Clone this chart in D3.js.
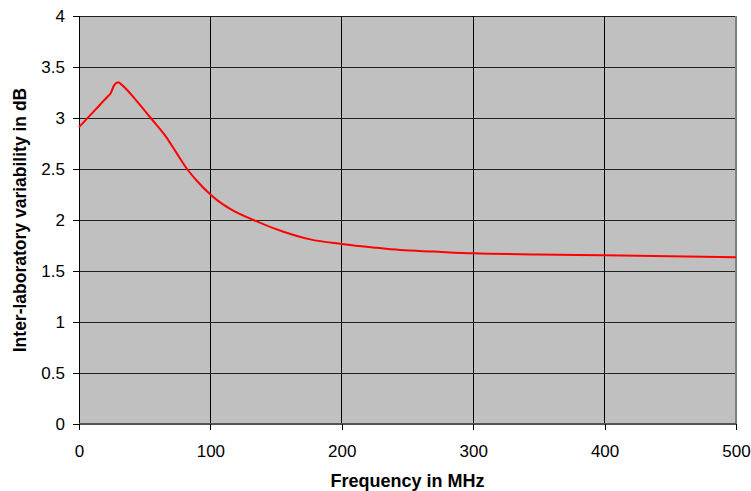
<!DOCTYPE html>
<html>
<head>
<meta charset="utf-8">
<script src="https://cdn.jsdelivr.net/npm/d3@7"></script>
<style>
  body { margin: 0; background: #fff; }
  svg text { font-family: "Liberation Sans", Arial, sans-serif; fill: #000; }
</style>
</head>
<body>
<div id="chart"></div>
<script>
//curve
var freq = [0, 12, 22, 24, 26.7, 29.7, 33, 43, 54.6, 66, 73.6, 81.7, 90, 100, 106.6, 115, 132.8, 155.6, 176, 200, 224, 244.5, 270, 300, 350, 400, 450, 500];
var variability = [2.91, 3.075, 3.213, 3.24, 3.32, 3.35, 3.32, 3.18, 3.0, 2.82, 2.67, 2.51, 2.38, 2.25, 2.18, 2.11, 2.0, 1.885, 1.81, 1.765, 1.73, 1.705, 1.69, 1.673, 1.662, 1.654, 1.645, 1.634];
var xTicks = [0, 100, 200, 300, 400, 500];
var yTicks = [0, 0.5, 1, 1.5, 2, 2.5, 3, 3.5, 4];

var width = 751, height = 491;
var margin = {top: 16, right: 15, bottom: 67, left: 79};

var svg = d3.select("#chart")
    .append("svg")
    .attr("width", width)
    .attr("height", height);

var x = d3.scaleLinear().domain([0, 500]).range([margin.left, width - margin.right]);
var y = d3.scaleLinear().domain([0, 4]).range([height - margin.bottom, margin.top]);

//plot background
svg.append("rect")
    .attr("x", x(0))
    .attr("y", y(4))
    .attr("width", x(500) - x(0))
    .attr("height", y(0) - y(4))
    .attr("fill", "#c0c0c0");

//horizontal gridlines
svg.append("g").selectAll("line")
    .data(yTicks.filter(function(d) { return d > 0; }))
    .enter().append("line")
    .attr("x1", x(0)).attr("x2", x(500))
    .attr("y1", function(d) { return y(d); })
    .attr("y2", function(d) { return y(d); })
    .attr("stroke", "#222")
    .attr("stroke-width", 1)
    .attr("shape-rendering", "crispEdges");

//vertical gridlines
svg.append("g").selectAll("line")
    .data(xTicks.filter(function(d) { return d > 0 && d < 500; }))
    .enter().append("line")
    .attr("x1", function(d) { return x(d); })
    .attr("x2", function(d) { return x(d); })
    .attr("y1", y(0)).attr("y2", y(4))
    .attr("stroke", "#000")
    .attr("stroke-width", 1)
    .attr("shape-rendering", "crispEdges");

//right border
svg.append("line")
    .attr("x1", x(500)).attr("x2", x(500))
    .attr("y1", y(0)).attr("y2", y(4))
    .attr("stroke", "#808080")
    .attr("stroke-width", 2)
    .attr("shape-rendering", "crispEdges");

//y axis
var yAxis = d3.axisLeft(y)
    .tickValues(yTicks)
    .tickSize(6)
    .tickPadding(8)
    .tickFormat(d3.format("~g"));

var gy = svg.append("g")
    .attr("transform", "translate(" + x(0) + ",0)")
    .call(yAxis);
gy.selectAll("text").style("font-size", "17px");
gy.selectAll("line, path").attr("stroke", "#000").attr("shape-rendering", "crispEdges");
gy.select(".domain").attr("d", "M0," + y(0) + "V" + y(4));

//x axis
var xAxis = d3.axisBottom(x)
    .tickValues(xTicks)
    .tickSize(6)
    .tickPadding(15);

var gx = svg.append("g")
    .attr("transform", "translate(0," + y(0) + ")")
    .call(xAxis);
gx.selectAll("text").style("font-size", "17px");
gx.selectAll("line").attr("stroke", "#000").attr("shape-rendering", "crispEdges");
gx.select(".domain").attr("d", "M" + x(0) + ",0H" + x(500))
    .attr("stroke", "#555").attr("stroke-width", 2).attr("shape-rendering", "crispEdges");

//the curve
var line = d3.line()
    .x(function(d, i) { return x(freq[i]); })
    .y(function(d) { return y(d); })
    .curve(d3.curveMonotoneX);

svg.append("path")
    .datum(variability)
    .attr("d", line)
    .attr("fill", "none")
    .attr("stroke", "#ff0000")
    .attr("stroke-width", 2);

//axis titles
svg.append("text")
    .attr("x", (x(0) + x(500)) / 2)
    .attr("y", 487)
    .attr("text-anchor", "middle")
    .style("font-size", "18px")
    .style("font-weight", "bold")
    .text("Frequency in MHz");

svg.append("text")
    .attr("transform", "translate(26," + ((y(0) + y(4)) / 2) + ") rotate(-90)")
    .attr("text-anchor", "middle")
    .style("font-size", "17.5px")
    .style("font-weight", "bold")
    .text("Inter-laboratory variability in dB");
</script>
</body>
</html>
